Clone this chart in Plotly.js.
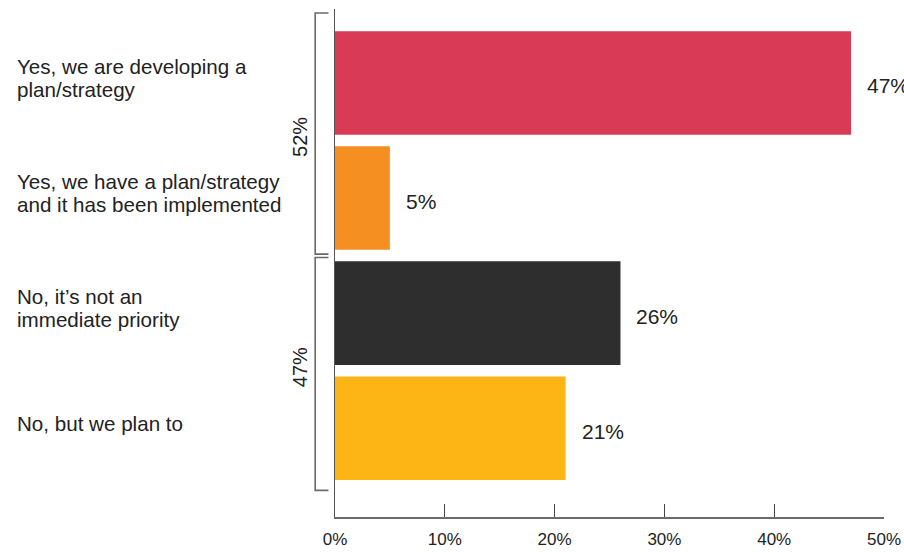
<!DOCTYPE html>
<html>
<head>
<meta charset="utf-8">
<script src="https://cdn.plot.ly/plotly-3.0.1.min.js"></script>
<style>
  html, body { margin: 0; padding: 0; background: #ffffff; }
  #chart { width: 904px; height: 552px; }
</style>
</head>
<body>
<div id="chart"></div>
<script>
// Survey answers, top to bottom
const categories = [
  "Yes, we are developing a\nplan/strategy",
  "Yes, we have a plan/strategy\nand it has been implemented",
  "No, it\u2019s not an\nimmediate priority",
  "No, but we plan to"
];
const values = [47, 5, 26, 21];
const valueLabels = ["47%", "5%", "26%", "21%"];
const barColors = ["#D93A56", "#F58F22", "#2E2E2E", "#FDB415"];

// Answer groups shown with a bracket on the left
const groupLabels = ["52%", "47%"];
const groupFirst = [0, 2];
const groupLast = [1, 3];

const xTickVals = [0, 10, 20, 30, 40, 50];
const xTickText = ["0%", "10%", "20%", "30%", "40%", "50%"];

const FONT = "Liberation Sans, Arial, Helvetica, sans-serif";
const TEXT = "#222222";
const positions = categories.map((_, i) => i);

const trace = {
  type: "bar",
  orientation: "h",
  x: values,
  y: positions,
  width: 0.9,
  marker: { color: barColors, line: { width: 0 } },
  hoverinfo: "skip"
};

const annotations = [];
const shapes = [];

// Category labels, left aligned, one annotation per line
const lineGap = 23.5;
categories.forEach((label, i) => {
  const lines = label.split("\n");
  lines.forEach((line, k) => {
    const offset = (k - (lines.length - 1) / 2) * lineGap;
    annotations.push({
      xref: "paper", yref: "y",
      x: -0.582, y: positions[i],
      xanchor: "left", yanchor: "middle",
      text: line, showarrow: false,
      yshift: 5 - offset,
      font: { family: FONT, size: 20.6, color: TEXT }
    });
  });
});

// Value labels just past the end of each bar
values.forEach((v, i) => {
  annotations.push({
    xref: "x", yref: "y",
    x: v, y: positions[i],
    xanchor: "left", yanchor: "middle",
    text: valueLabels[i], showarrow: false,
    xshift: 14, yshift: -3,
    font: { family: FONT, size: 21, color: TEXT }
  });
});

// Group brackets with their totals
const bx0 = -0.0361, bx1 = -0.0119;
groupLabels.forEach((g, j) => {
  const top = groupFirst[j] - (j === 0 ? 0.608 : 0.483);
  const bottom = groupLast[j] + (j === 0 ? 0.487 : 0.54);
  shapes.push({
    type: "path",
    xref: "paper", yref: "y",
    path: `M ${bx1},${top} L ${bx0},${top} L ${bx0},${bottom} L ${bx1},${bottom}`,
    line: { color: "#6a6a6a", width: 1.6 }
  });
  annotations.push({
    xref: "paper", yref: "y",
    x: -0.0648, y: (groupFirst[j] + groupLast[j]) / 2,
    xanchor: "center", yanchor: "middle",
    text: g, showarrow: false, textangle: -90,
    yshift: 4,
    font: { family: FONT, size: 20, color: TEXT }
  });
});

const layout = {
  width: 904,
  height: 552,
  margin: { l: 335, r: 20, t: 9, b: 35, pad: 0 },
  paper_bgcolor: "#ffffff",
  plot_bgcolor: "#ffffff",
  showlegend: false,
  bargap: 0.1,
  xaxis: {
    range: [0, 50],
    tickvals: xTickVals,
    ticktext: xTickText,
    ticks: "inside",
    ticklen: 13,
    tickwidth: 1.2,
    tickcolor: "#444444",
    showline: true,
    linecolor: "#6a6a6a",
    linewidth: 1.5,
    showgrid: false,
    zeroline: false,
    ticklabelstandoff: 6,
    tickfont: { family: FONT, size: 17, color: TEXT },
    fixedrange: true
  },
  yaxis: {
    range: [3.771, -0.6425],
    showticklabels: false,
    ticks: "",
    showline: true,
    linecolor: "#555555",
    linewidth: 1.5,
    showgrid: false,
    zeroline: false,
    fixedrange: true
  },
  annotations: annotations,
  shapes: shapes
};

Plotly.newPlot("chart", [trace], layout, { displayModeBar: false, staticPlot: true });
</script>
</body>
</html>
